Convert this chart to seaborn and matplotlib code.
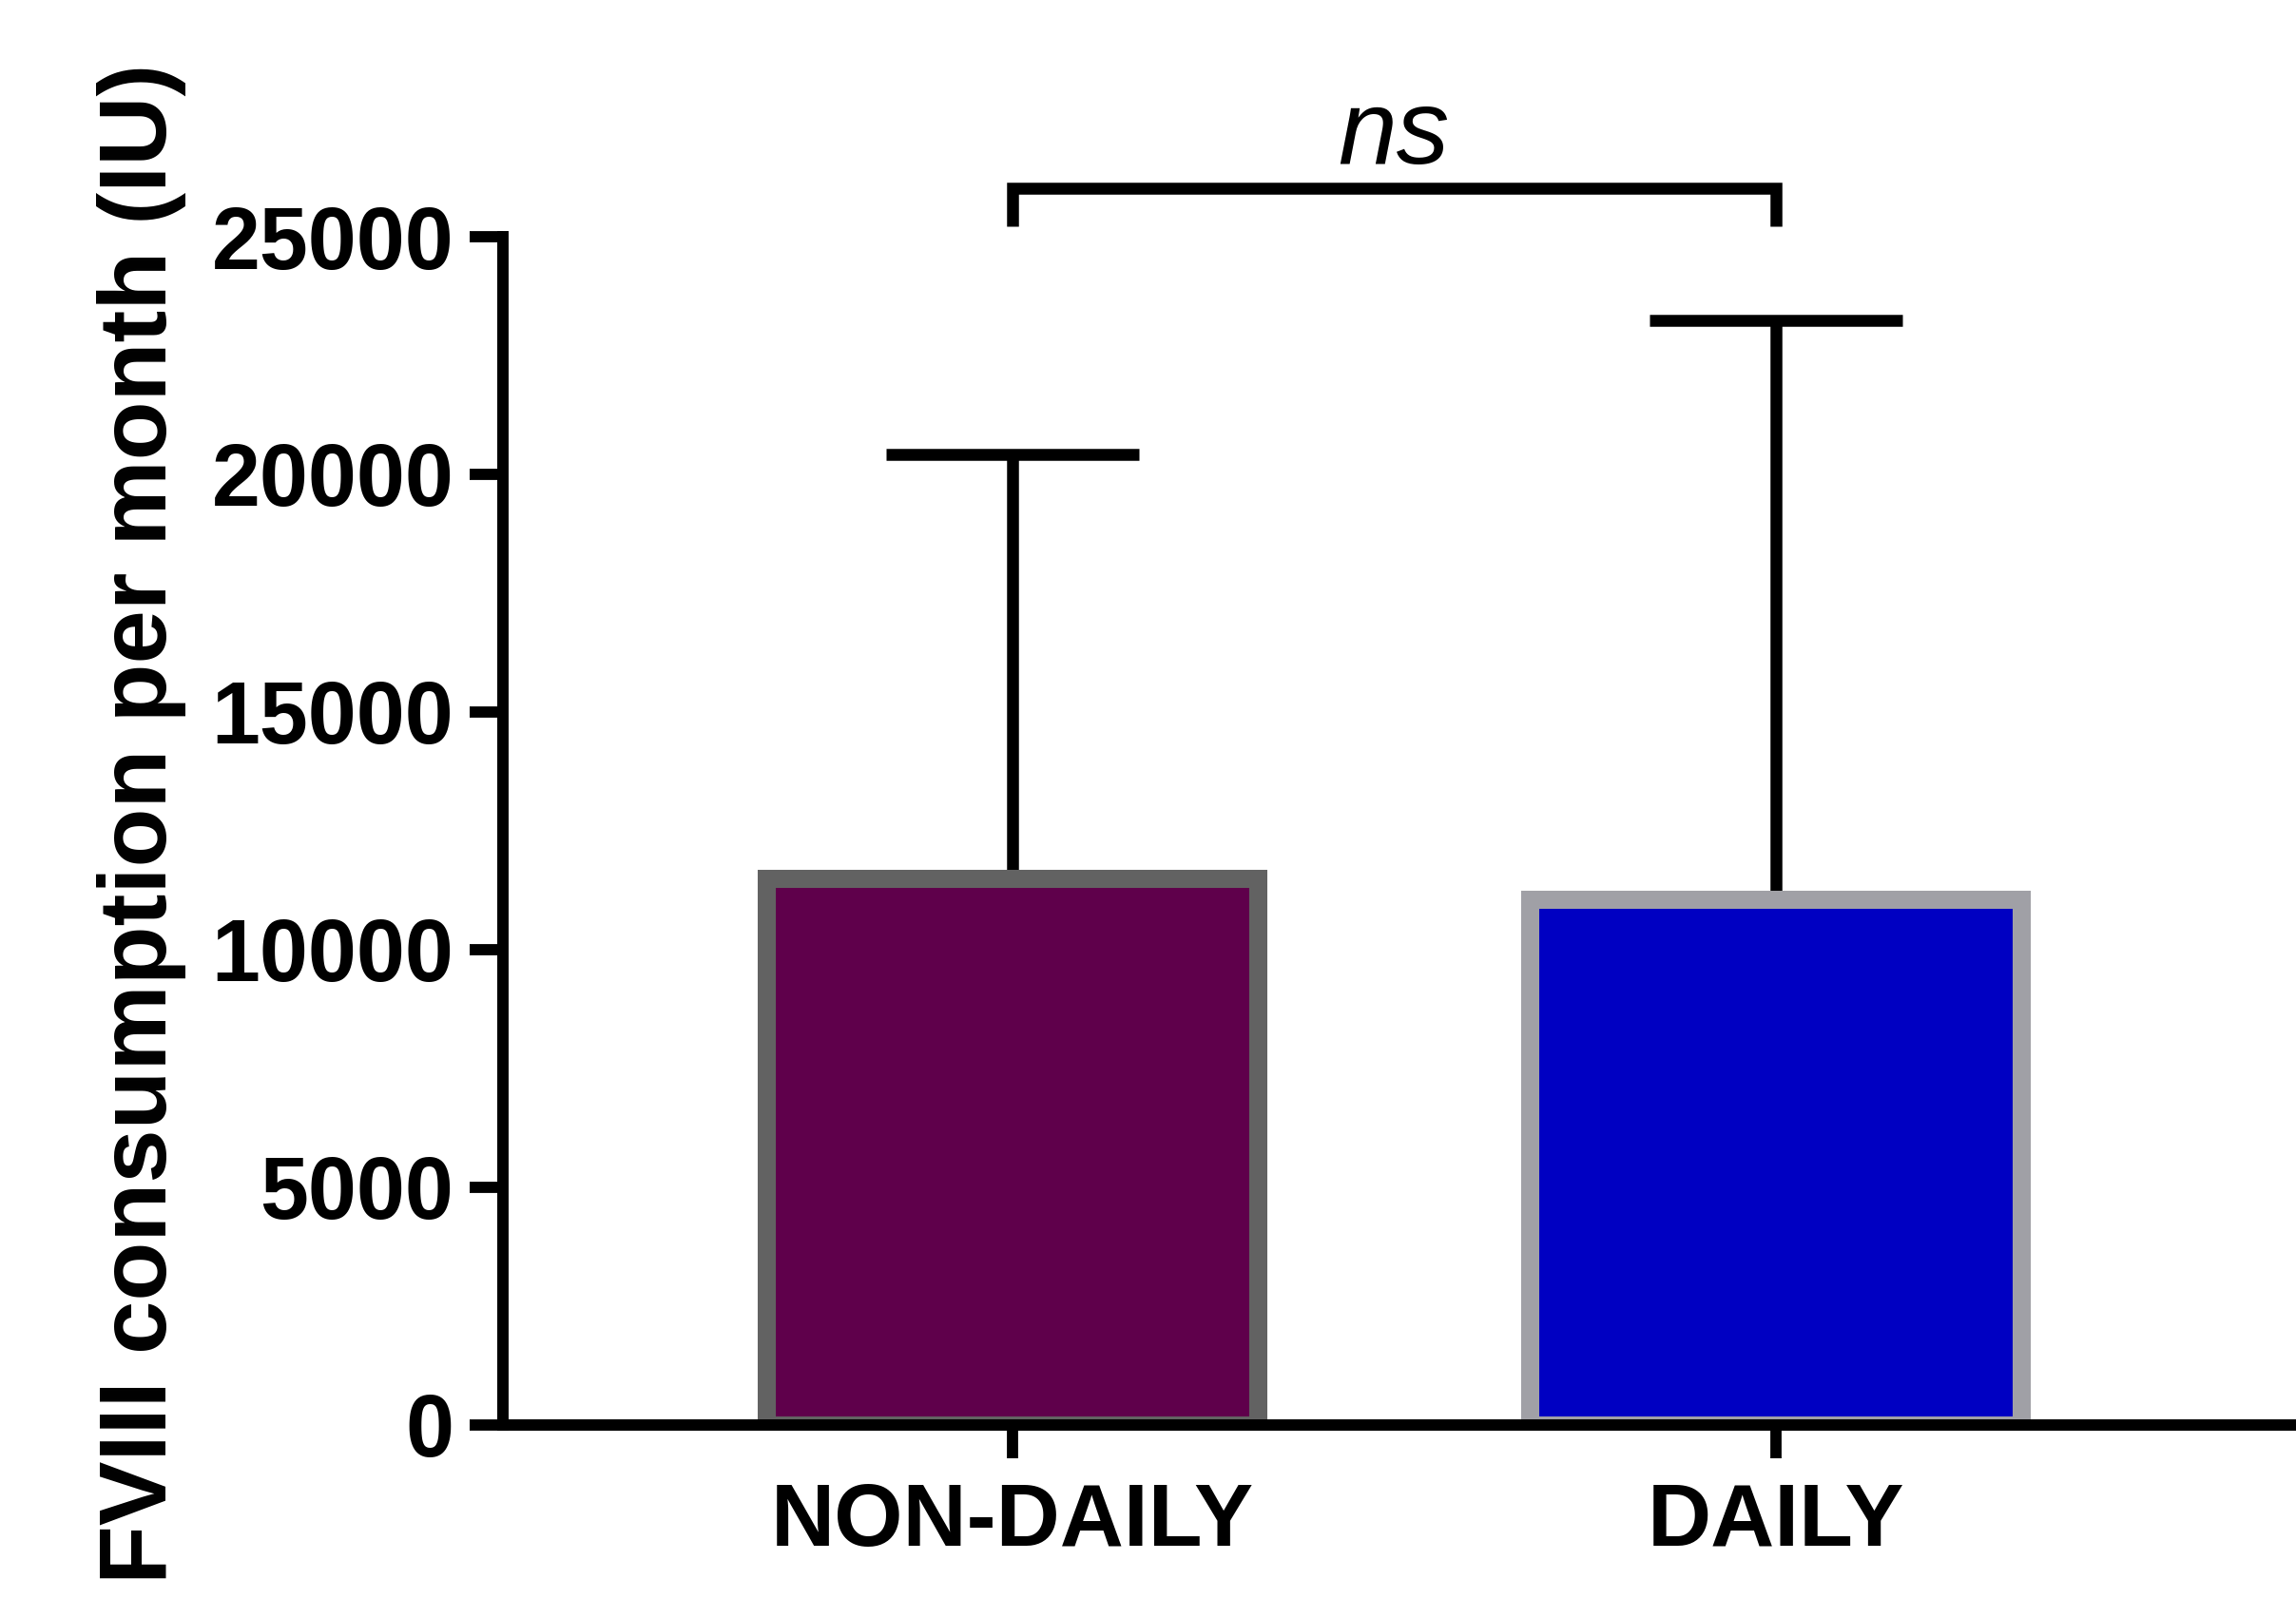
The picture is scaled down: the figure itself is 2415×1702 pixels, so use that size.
import numpy as np
import pandas as pd
import seaborn as sns
import matplotlib.pyplot as plt

# values (mean and upper SD, IU per month)
groups = ['NON-DAILY', 'DAILY']
means = [11500, 11050]
upper_sd = [8920, 12190]
fill_colors = ['#5f004b', '#0000c2']
edge_colors = ['#626262', '#a0a0a6']
y_ticks = [0, 5000, 10000, 15000, 20000, 25000]
sig_label = 'ns'

sns.set_style('ticks')
plt.rcParams['font.family'] = ['Liberation Sans', 'DejaVu Sans']
plt.rcParams['text.color'] = 'black'
plt.rcParams['axes.labelcolor'] = 'black'
plt.rcParams['xtick.color'] = 'black'
plt.rcParams['ytick.color'] = 'black'

df = pd.DataFrame({'group': groups, 'mean': means})

fig = plt.figure(figsize=(24.15, 17.02), dpi=100)
ax = fig.add_axes([0.219, 0.1193, 0.7789, 0.7344])

# one-sided error bars, drawn behind the bars
ax.errorbar(x=np.arange(len(groups)), y=means, yerr=[np.zeros(len(groups)), upper_sd],
            fmt='none', ecolor='black', elinewidth=9, capsize=96, capthick=9, zorder=2)

sns.barplot(data=df, x='group', y='mean', hue='group', palette=fill_colors,
            width=0.644, linewidth=13.7, errorbar=None, legend=False, ax=ax,
            saturation=1, zorder=3)
for patch, ec in zip(ax.patches, edge_colors):
    patch.set_edgecolor(ec)
    patch.set_joinstyle('miter')

ax.set_xlim(-0.667, 1.675)
ax.set_ylim(0, 25000)
ax.set_yticks(y_ticks)
ax.set_yticklabels([str(t) for t in y_ticks], fontsize=66, fontweight='bold')
ax.set_xticks(range(len(groups)))
ax.set_xticklabels(groups, fontsize=67, fontweight='bold')
ax.tick_params(axis='both', length=25, width=8.5, color='black', labelcolor='black')
ax.tick_params(axis='y', pad=12)
ax.tick_params(axis='x', pad=18)

for side in ['top', 'right']:
    ax.spines[side].set_visible(False)
for side in ['left', 'bottom']:
    ax.spines[side].set_linewidth(8.6)
    ax.spines[side].set_color('black')
    ax.spines[side].set_zorder(5)

ax.set_xlabel('')
ax.set_ylabel('FVIII consumption per month (IU)', fontsize=73, fontweight='bold',
              color='black')
ax.yaxis.set_label_coords(-0.177, 0.506)

# significance bracket
ax.plot([0, 0, 1, 1], [25220, 26020, 26020, 25220], color='black', lw=9,
        clip_on=False, solid_joinstyle='miter', solid_capstyle='butt')
ax.text(0.5, 26540, sig_label, ha='center', va='baseline', fontsize=80,
        fontstyle='italic', color='black')

fig.savefig('out.png', dpi=100)
